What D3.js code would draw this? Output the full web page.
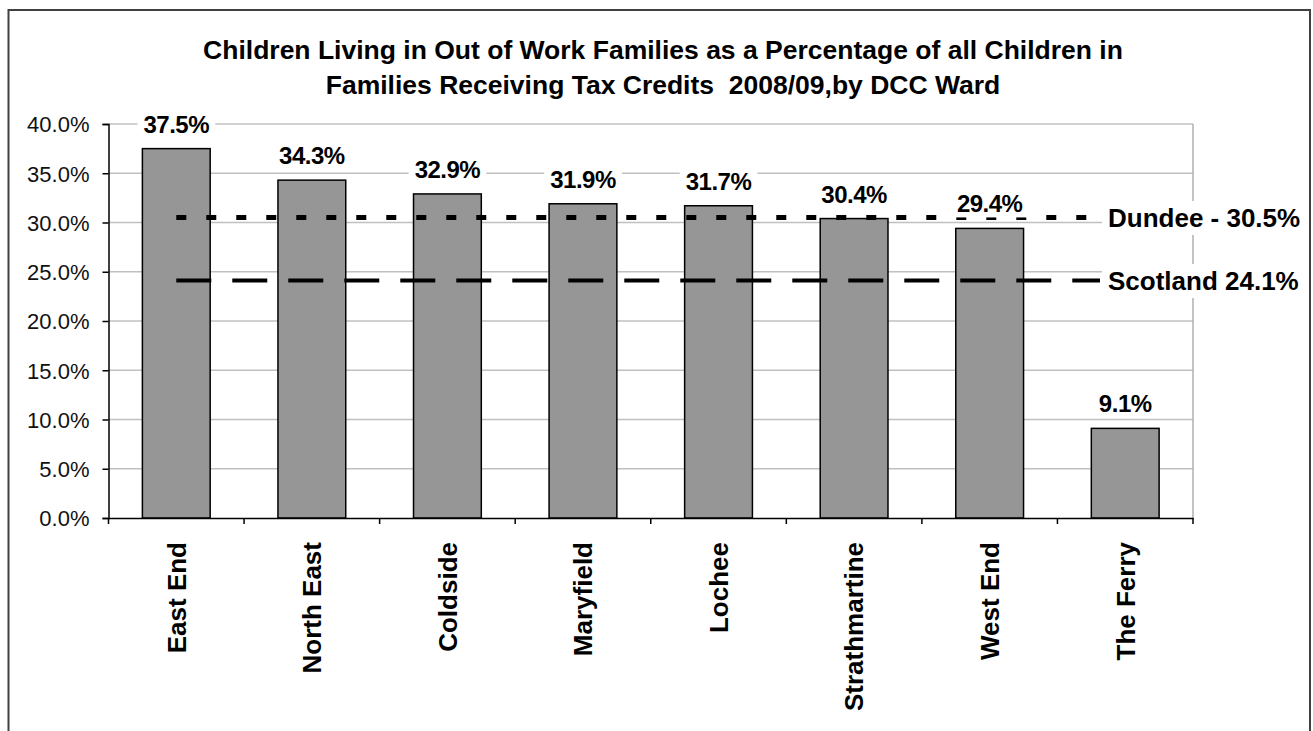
<!DOCTYPE html>
<html><head><meta charset="utf-8">
<script src="https://cdn.jsdelivr.net/npm/d3@7"></script>
<style>body{margin:0;background:#fff}svg{display:block}</style>
</head><body>
<svg id="c" width="1313" height="731"></svg>
<script>
const categories = ["East End","North East","Coldside","Maryfield","Lochee","Strathmartine","West End","The Ferry"];
const values = [37.5,34.3,32.9,31.9,31.7,30.4,29.4,9.1];
const yTicks = [0,5,10,15,20,25,30,35,40];
const refNames = ["Dundee - 30.5%","Scotland 24.1%"];
const refValues = [30.5,24.1];
const titleLines = ["Children Living in Out of Work Families as a Percentage of all Children in","Families Receiving Tax Credits  2008/09,by DCC Ward"];

const svg = d3.select("#c");
const font = "'Liberation Sans', Arial, sans-serif";
const L=108.5, R=1193, T=124, B=518;
svg.append("rect").attr("x",8.5).attr("y",10).attr("width",1301.5).attr("height",740)
  .attr("fill","#fff").attr("stroke","#404040").attr("stroke-width",2);

const x = d3.scaleBand().domain(categories).range([L,R]).paddingInner(0.5).paddingOuter(0.25);
const xb = d3.scaleBand().domain(categories).range([L,R]);
const y = d3.scaleLinear().domain([0,40]).range([B,T]);

// gridlines
svg.append("g").selectAll("line").data(yTicks.filter(d=>d>0)).join("line")
  .attr("x1",L).attr("x2",R).attr("y1",d=>y(d)).attr("y2",d=>y(d))
  .attr("stroke","#c0c0c0").attr("stroke-width",1.5);
svg.append("line").attr("x1",R).attr("x2",R).attr("y1",T).attr("y2",B)
  .attr("stroke","#b0b0b0").attr("stroke-width",1.5);

// bars
svg.append("g").selectAll("rect").data(values).join("rect")
  .attr("x",(d,i)=>x(categories[i])).attr("width",x.bandwidth())
  .attr("y",d=>y(d)).attr("height",d=>B-y(d))
  .attr("fill","#969696").attr("stroke","#000").attr("stroke-width",1.5);

// reference lines
const lx1 = xb(categories[0])+xb.bandwidth()/2, lx2 = 1100;
const styles = [{dash:"10,20",w:5},{dash:"35,21",w:4}];
refValues.forEach((v,i)=>{
  svg.append("line").attr("x1",lx1).attr("x2",lx2).attr("y1",y(v)).attr("y2",y(v))
    .attr("stroke","#000").attr("stroke-width",styles[i].w).attr("stroke-dasharray",styles[i].dash);
});

// y axis
const ya = svg.append("g").attr("transform",`translate(${L},0)`)
  .call(d3.axisLeft(y).tickValues(yTicks).tickFormat(d=>d.toFixed(1)+"%").tickSize(6).tickPadding(13));
ya.select(".domain").attr("stroke","#000").attr("stroke-width",1.5);
ya.selectAll(".tick line").attr("stroke","#000").attr("stroke-width",1.5);
ya.selectAll("text").attr("font-family",font).attr("font-size",22).attr("fill","#111").attr("dy","0.36em");

// x axis
const xa = svg.append("g").attr("transform",`translate(0,${B})`)
  .call(d3.axisBottom(xb).tickValues([]).tickSizeOuter(0));
xa.select(".domain").attr("stroke","#000").attr("stroke-width",1.5);
const bounds = categories.map(c=>xb(c)).concat([R]);
svg.append("g").selectAll("line").data(bounds).join("line")
  .attr("x1",d=>d).attr("x2",d=>d).attr("y1",B).attr("y2",B+6)
  .attr("stroke","#000").attr("stroke-width",1.5);
svg.append("g").selectAll("text").data(categories).join("text")
  .attr("transform",d=>`translate(${xb(d)+xb.bandwidth()/2},542) rotate(-90)`)
  .attr("dy","0.36em").attr("text-anchor","end")
  .attr("font-family",font).attr("font-weight","bold").attr("font-size",26).attr("fill","#000")
  .text(d=>d);

// data labels with white backgrounds
const dl = svg.append("g");
values.forEach((v,i)=>{
  const cx = xb(categories[i])+xb.bandwidth()/2, by = y(v)-16;
  const t = dl.append("text").attr("x",cx).attr("y",by).attr("text-anchor","middle")
    .attr("font-family",font).attr("font-weight","bold").attr("font-size",24)
    .attr("letter-spacing","-0.5").attr("fill","#000").text(v.toFixed(1)+"%");
  const bb = t.node().getBBox();
  dl.insert("rect","text:last-child").attr("x",bb.x-6).attr("y",bb.y).attr("width",bb.width+12).attr("height",bb.height)
    .attr("fill","#fff");
});
dl.selectAll("text").raise();

// reference labels
const rl = svg.append("g");
refValues.forEach((v,i)=>{
  const t = rl.append("text").attr("x",1108).attr("y",y(v)).attr("dy","0.36em")
    .attr("font-family",font).attr("font-weight","bold").attr("font-size",26).attr("fill","#000")
    .text(refNames[i]);
  const bb = t.node().getBBox();
  rl.insert("rect","text").attr("x",bb.x-6).attr("y",bb.y-2).attr("width",bb.width+10).attr("height",bb.height+4).attr("fill","#fff");
});
rl.selectAll("text").raise();

// title
svg.append("g").selectAll("text").data(titleLines).join("text")
  .attr("x",663).attr("y",(d,i)=>59+i*35).attr("text-anchor","middle")
  .attr("xml:space","preserve").style("white-space","pre")
  .attr("font-family",font).attr("font-weight","bold").attr("font-size",26.5).attr("fill","#000")
  .text(d=>d);
</script>
</body></html>
